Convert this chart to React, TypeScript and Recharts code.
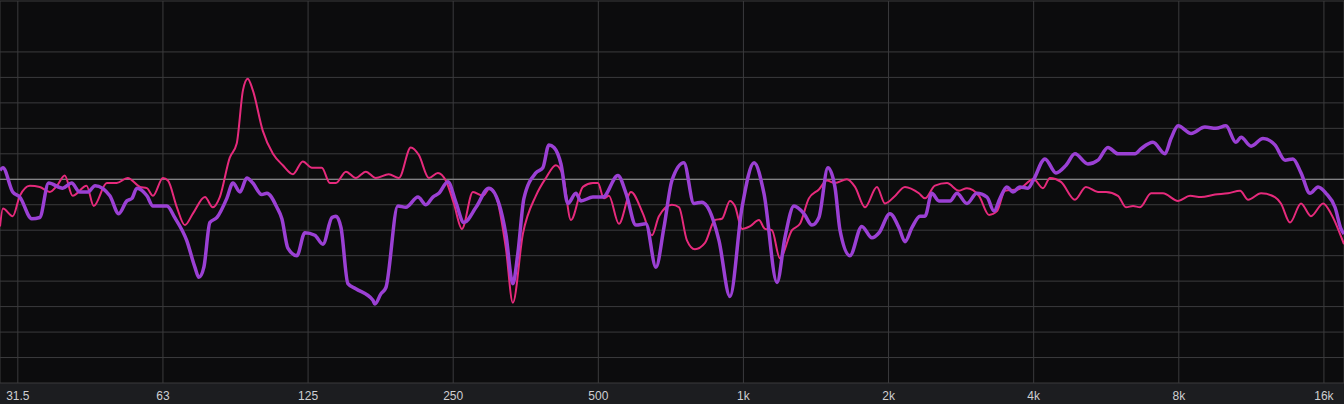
import { CartesianGrid, Line, LineChart, ReferenceLine, XAxis, YAxis } from "recharts";

// octave centres on the x axis and the labels printed under them
const octaveTicks = [31.25, 62.5, 125, 250, 500, 1000, 2000, 4000, 8000, 16000];
const octaveLabels = ["31.5", "63", "125", "250", "500", "1k", "2k", "4k", "8k", "16k"];

// level grid, dB
const levelTicks = [-16, -14, -12, -10, -8, -6, -4, -2, 0, 2, 4, 6, 8, 10, 12, 14];

// [Hz, dB]
const pinkTrace: [number, number][] = [
  [28.7, -3.7], [29.1, -2.3], [30.5, -2.9], [31.55, -1.3], [33.1, -0.5], [34.7, -0.6],
  [36.4, -1.0], [37.7, -0.5], [39.1, 0.3], [40.6, -1.3], [43.4, -0.5], [44.9, -2.1],
  [47.8, -0.3], [50.1, -0.3], [52.8, 0.1], [56.0, -0.6], [57.9, -0.7], [59.6, -1.3],
  [62.5, 0.1], [64.0, -0.1], [66.8, -2.2], [69.4, -3.6], [72.1, -2.7], [76.4, -1.4],
  [79.3, -2.2], [82.0, -1.4], [86.0, 1.7], [88.9, 2.8], [91.6, 7.0], [93.7, 7.9],
  [96.0, 7.0], [100.7, 3.8], [105.7, 2.0], [110.8, 1.1], [116.3, 0.4], [121.9, 1.4],
  [127.3, 0.9], [133.5, 0.9], [138.7, -0.3], [142.8, -0.3], [149.8, 0.6], [157.0, 0.1],
  [164.7, 0.6], [172.7, 0.1], [183.8, 0.4], [192.9, 0.1], [204.2, 2.5], [212.2, 1.9],
  [222.6, 0.1], [232.4, 0.5], [241.3, -0.1], [250.8, -1.9], [260.6, -3.9], [274.7, -1.0],
  [288.0, -1.3], [297.8, -0.7], [306.6, -1.3], [321.5, -5.4], [332.4, -9.7], [348.7, -4.3],
  [371.0, -1.3], [389.3, 0.1], [408.3, 1.1], [422.3, 0.3], [438.7, -3.2], [464.5, -0.6],
  [487.3, -0.3], [499, -0.3], [513.5, -1.5], [526.0, -1.3], [551.6, -3.5], [584.4, -1.0],
  [618.8, -2.7], [646.0, -4.4], [667.9, -2.9], [710.7, -2.0], [735.0, -2.2], [763.5, -4.8],
  [793.0, -5.5], [832.2, -5.0], [872.9, -3.2], [902.4, -3.1], [937.6, -1.7], [960.0, -2.1],
  [993.4, -3.9], [1031, -3.7], [1077, -3.2], [1108, -3.9], [1146, -4.0], [1190, -6.2],
  [1261, -4.0], [1310, -3.5], [1367, -1.5], [1434, -0.8], [1490, -0.1], [1548, -0.3],
  [1639, 0.0], [1704, -0.6], [1787, -2.2], [1892, -0.6], [1966, -1.9], [2052, -1.4],
  [2163, -0.6], [2312, -1.1], [2380, -1.5], [2496, -0.5], [2644, -0.3], [2800, -0.9],
  [2908, -0.7], [3080, -1.3], [3232, -2.8], [3358, -2.5], [3488, -0.9], [3710, -0.8],
  [4000, 0.0], [4181, -0.7], [4324, 0.1], [4557, -0.2], [4871, -1.6], [5134, -0.6],
  [5438, -1.0], [5652, -1.0], [5983, -1.3], [6217, -2.2], [6429, -2.1], [6647, -2.2],
  [7008, -1.1], [7417, -1.1], [7973, -1.7], [8441, -1.3], [8896, -1.4], [9509, -1.2],
  [10118, -1.1], [10720, -0.9], [11140, -1.6], [11850, -1.1], [12660, -1.4], [13030, -1.9],
  [13610, -3.4], [14340, -1.9], [15040, -2.9], [15940, -1.9], [16550, -2.7], [17610, -5.1],
];

const purpleTrace: [number, number][] = [
  [28.7, 0.7], [29.1, 0.9], [30.5, -1.0], [31.55, -1.4], [33.4, -3.1], [34.7, -3.0],
  [36.2, -0.3], [38.7, -0.7], [40.4, -0.3], [42.0, -1.0], [43.7, -1.0], [45.2, -0.5],
  [48.5, -1.3], [50.6, -2.7], [52.6, -1.7], [53.9, -1.5], [55.2, -0.7], [57.9, -1.3],
  [59.6, -2.1], [63.7, -2.1], [66.1, -3.0], [70.0, -4.8], [72.8, -6.9], [74.2, -7.7],
  [76.0, -6.9], [78.2, -3.4], [80.9, -3.0], [84.8, -1.5], [87.3, -0.3], [90.3, -1.0],
  [93.3, 0.1], [96.0, -0.3], [100.2, -1.2], [102.7, -1.1], [107.7, -2.2], [110.3, -3.1],
  [113.5, -5.4], [118.5, -6.0], [123.1, -4.2], [129.1, -4.4], [134.2, -5.1], [140.1, -3.0],
  [142.8, -2.9], [146.3, -3.8], [151.2, -8.2], [157.0, -8.6], [170.4, -9.5], [172.0, -9.8],
  [177.0, -9.0], [181.3, -8.5], [191.9, -2.1], [199.4, -2.2], [211.3, -1.4], [219.5, -2.0],
  [226.9, -1.4], [233.5, -1.1], [243.8, -0.2], [253.2, -1.8], [263.1, -3.4], [278.8, -2.2],
  [296.4, -0.7], [311.0, -1.9], [321.5, -4.3], [332.4, -8.2], [340.5, -5.8], [350.5, -1.5],
  [371.0, 0.5], [383.6, 0.9], [395.0, 2.7], [404.6, 2.5], [418.3, 1.2], [432.4, -1.9],
  [449.2, -1.1], [460.0, -1.7], [487.3, -1.4], [511.1, -1.4], [549.1, 0.3], [570.7, -1.1],
  [598.4, -3.6], [627.5, -3.5], [658.4, -6.9], [684.0, -3.8], [710.7, -0.1], [752.4, 1.3],
  [789.3, -1.9], [819.8, -1.8], [839.7, -2.1], [889.6, -4.8], [937.6, -9.2], [993.4, -2.2],
  [1052, 1.3], [1103, -1.1], [1174, -8.1], [1219, -4.6], [1273, -2.1], [1335, -2.7],
  [1387, -3.6], [1434, -3.0], [1497, 0.9], [1548, -0.6], [1586, -4.0], [1663, -6.0],
  [1760, -3.7], [1848, -4.6], [1911, -4.2], [2013, -2.7], [2102, -3.8], [2163, -4.9],
  [2236, -3.8], [2324, -2.9], [2380, -2.9], [2459, -1.1], [2544, -1.7], [2683, -1.7],
  [2772, -1.1], [2908, -1.9], [3049, -1.1], [3200, -1.4], [3310, -2.5], [3406, -1.5],
  [3519, -0.6], [3623, -1.0], [3745, -0.6], [3892, -0.7], [3990, -0.1], [4222, 1.6],
  [4450, 0.5], [4668, 1.1], [4871, 2.0], [5183, 1.2], [5438, 1.5], [5703, 2.5],
  [5983, 2.0], [6490, 2.0], [6681, 2.4], [7071, 2.9], [7488, 2.0], [7707, 3.2],
  [7973, 4.2], [8482, 3.6], [9062, 4.1], [9552, 4.0], [10020, 4.2], [10510, 2.9],
  [10770, 3.3], [11300, 2.6], [11960, 3.2], [12660, 2.7], [13290, 1.5], [13800, 1.6],
  [14340, 0.5], [14970, -1.1], [15560, -0.6], [16160, -1.1], [16870, -2.2], [17360, -3.9],
  [17610, -4.3],
];

const toRows = (trace: [number, number][]) => trace.map(([hz, db]) => ({ hz, db }));

const W = 1344;
const H = 404;

export default function App() {
  const pink = toRows(pinkTrace);
  const purple = toRows(purpleTrace);

  return (
    <div style={{ position: "fixed", left: 0, top: 0, width: W, height: H, background: "#0c0c0d" }}>
      <div
        style={{ position: "absolute", left: 0, top: 383, width: W, height: H - 383, background: "#1c1d20" }}
      />
      <LineChart
        width={W}
        height={H}
        margin={{ top: 1, right: 0, left: 0, bottom: 0 }}
        style={{ position: "absolute", left: 0, top: 0 }}
      >
        <CartesianGrid stroke="#3b3b3d" strokeWidth={1} />
        <XAxis
          dataKey="hz"
          type="number"
          scale="log"
          domain={[28.7, 17610]}
          ticks={octaveTicks}
          allowDataOverflow
          interval={0}
          axisLine={false}
          tickLine={false}
          height={21}
          tickFormatter={(v: number) => octaveLabels[octaveTicks.indexOf(v)] ?? ""}
          tick={{ fill: "#cfcfd2", fontSize: 12, fontFamily: "Liberation Sans, Arial, sans-serif" }}
        />
        <YAxis hide type="number" domain={[-16, 14]} ticks={levelTicks} allowDataOverflow />
        <ReferenceLine y={0} stroke="#9a9a9c" strokeWidth={1} />
        <Line
          data={pink}
          dataKey="db"
          type="monotone"
          stroke="#e62a7c"
          strokeWidth={2}
          dot={false}
          activeDot={false}
          isAnimationActive={false}
        />
        <Line
          data={purple}
          dataKey="db"
          type="monotone"
          stroke="#9b40d4"
          strokeWidth={3.5}
          dot={false}
          activeDot={false}
          isAnimationActive={false}
        />
      </LineChart>
    </div>
  );
}
